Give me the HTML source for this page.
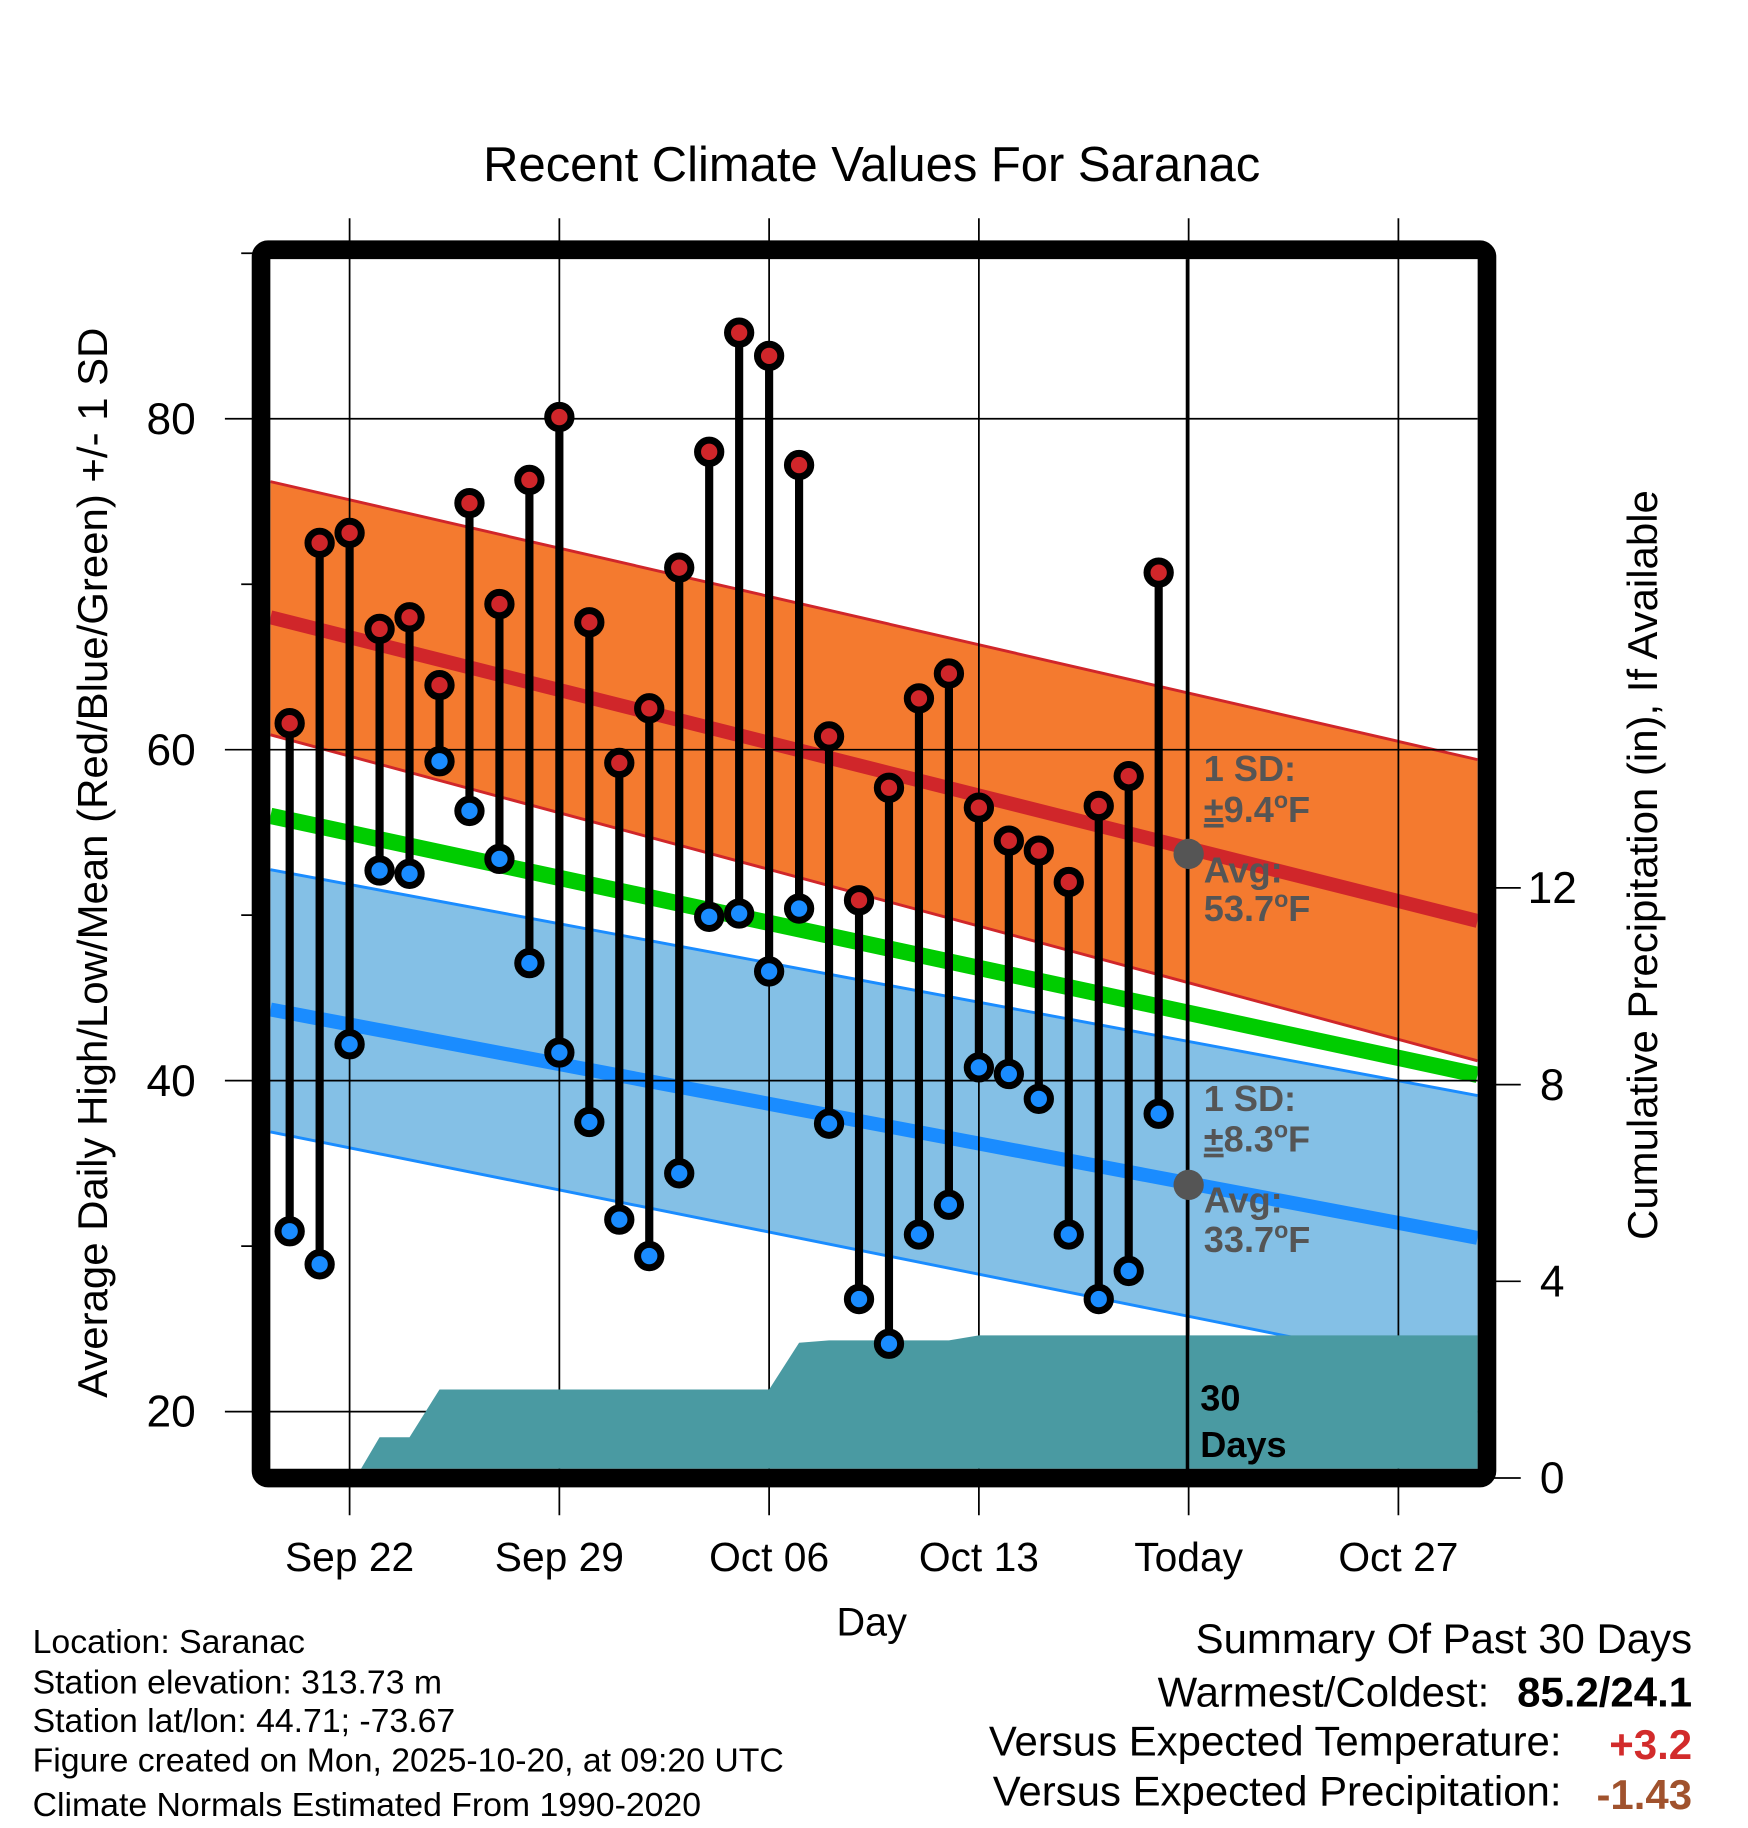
<!DOCTYPE html>
<html><head><meta charset="utf-8"><style>
html,body{margin:0;padding:0;background:#fff;}
svg{display:block;font-family:"Liberation Sans",Arial,sans-serif;}
</style></head><body>
<svg id="chart" xmlns="http://www.w3.org/2000/svg" width="1748" height="1828" viewBox="0 0 1500 1568">
<defs><clipPath id="plotclip"><rect x="232" y="222" width="1036" height="1038"/></clipPath></defs>
<text x="748" y="155" font-size="42" text-anchor="middle">Recent Climate Values For Saranac</text>
<g id="bands" clip-path="url(#plotclip)"></g>
<g id="grid"></g>
<g id="precip" clip-path="url(#plotclip)"></g>
<line x1="1019" y1="222" x2="1019" y2="1262" stroke="#000" stroke-width="3"/>
<g id="marks"></g>
<g font-weight="bold" font-size="31" fill="#555">
<text x="1033" y="670">1 SD:</text>
<text x="1033" y="705"><tspan text-decoration="underline">±</tspan>9.4<tspan font-size="20" dy="-12">o</tspan><tspan dy="12">F</tspan></text>
<text x="1033" y="757">Avg:</text>
<text x="1033" y="790">53.7<tspan font-size="20" dy="-12">o</tspan><tspan dy="12">F</tspan></text>
</g>
<g font-weight="bold" font-size="31" fill="#555">
<text x="1033" y="953">1 SD:</text>
<text x="1033" y="988"><tspan text-decoration="underline">±</tspan>8.3<tspan font-size="20" dy="-12">o</tspan><tspan dy="12">F</tspan></text>
<text x="1033" y="1040">Avg:</text>
<text x="1033" y="1074">33.7<tspan font-size="20" dy="-12">o</tspan><tspan dy="12">F</tspan></text>
</g>
<text x="1030" y="1210" font-size="31" font-weight="bold">30</text>
<text x="1030" y="1250" font-size="31" font-weight="bold">Days</text>
<rect x="224" y="214" width="1052" height="1054" rx="6" fill="none" stroke="#000" stroke-width="16"/>
<text x="748" y="1403" font-size="34" text-anchor="middle">Day</text>
<text transform="translate(92,740) rotate(-90)" font-size="36" text-anchor="middle">Average Daily High/Low/Mean (Red/Blue/Green) +/- 1 SD</text>
<text transform="translate(1422,742) rotate(-90)" font-size="36" text-anchor="middle">Cumulative Precipitation (in), If Available</text>
<g font-size="29">
<text x="28" y="1418">Location: Saranac</text>
<text x="28" y="1453">Station elevation: 313.73 m</text>
<text x="28" y="1486">Station lat/lon: 44.71; -73.67</text>
<text x="28" y="1520">Figure created on Mon, 2025-10-20, at 09:20 UTC</text>
<text x="28" y="1558">Climate Normals Estimated From 1990-2020</text>
</g>
<g font-size="36" text-anchor="end">
<text x="1452" y="1418">Summary Of Past 30 Days</text>
<text x="1278" y="1464">Warmest/Coldest:</text>
<text x="1452" y="1464" font-weight="bold">85.2/24.1</text>
<text x="1340" y="1506">Versus Expected Temperature:</text>
<text x="1452" y="1509" font-weight="bold" fill="#d22b2b">+3.2</text>
<text x="1340" y="1549">Versus Expected Precipitation:</text>
<text x="1452" y="1552" font-weight="bold" fill="#a0522d">-1.43</text>
</g>
</svg>
<script>
// Day index 0 = Sep 22
const obsDays = [-2,-1,0,1,2,3,4,5,6,7,8,9,10,11,12,13,14,15,16,17,18,19,20,21,22,23,24,25,26,27];
const highs = [61.6,72.5,73.1,67.3,68.0,63.9,74.9,68.8,76.3,80.1,67.7,59.2,62.5,71.0,78.0,85.2,83.8,77.2,60.8,50.9,57.7,63.1,64.6,56.5,54.5,53.9,52.0,56.6,58.4,70.7];
const lows = [30.9,28.9,42.2,52.7,52.5,59.3,56.3,53.4,47.1,41.7,37.5,31.6,29.4,34.4,49.9,50.1,46.6,50.4,37.4,26.8,24.1,30.7,32.5,40.8,40.4,38.9,30.7,26.8,28.5,38.0];
const normDays = [-2.64, 37.64];
const hiUpper = [76.2, 59.4];
const hiMean = [68.0, 49.65];
const hiLower = [60.9, 41.2];
const meanNorm = [56.0, 40.35];
const loUpper = [52.75, 39.1];
const loMean = [44.3, 30.5];
const loLower = [36.9, 22.25];
const precipDays = [0.2,1,2,3,14,15,16,20,21,37.7];
const precipCum = [0,0.83,0.83,1.8,1.8,2.75,2.8,2.8,2.9,2.9];
const xTickDays = [0,7,14,21,28,35];
const xTickLabels = ["Sep 22","Sep 29","Oct 06","Oct 13","Today","Oct 27"];
const yTicks = [20,40,60,80];
const yMinor = [30,50,70,90];
const pTicks = [0,4,8,12];
const todayDay = 28;
const todayHiAvg = 53.7, todayLoAvg = 33.7;

const X = d => 300 + d*180/7;
const Y = t => 643 - (t-60)*14.2;
const P = p => 1268 - p*42.2;
const NS = "http://www.w3.org/2000/svg";
function mk(tag, parent, attrs){const e=document.createElementNS(NS,tag);for(const k in attrs)e.setAttribute(k,attrs[k]);parent.appendChild(e);return e;}
const bands=document.getElementById('bands'), grid=document.getElementById('grid'), precip=document.getElementById('precip'), marks=document.getElementById('marks');
const x0=X(normDays[0]), x1=X(normDays[1]);
function band(up,lo,fill,edge,name){
  const p=mk('polygon',bands,{points:`${x0},${Y(up[0])} ${x1},${Y(up[1])} ${x1},${Y(lo[1])} ${x0},${Y(lo[0])}`,fill:fill});
  
  
  [up,lo].forEach(a=>{mk('line',bands,{x1:x0,y1:Y(a[0]),x2:x1,y2:Y(a[1]),stroke:edge,'stroke-width':2.5});});
}
function ln(a,col,w,name){const l=mk('line',bands,{x1:x0,y1:Y(a[0]),x2:x1,y2:Y(a[1]),stroke:col,'stroke-width':w});
  
  }
band(hiUpper,hiLower,'#f47a2f','#d0262a','high-sd-band');
ln(hiMean,'#d0262a',12,'high-mean-line');
band(loUpper,loLower,'#84c0e6','#1a8cff','low-sd-band');
ln(loMean,'#1a8cff',12,'low-mean-line');
ln(meanNorm,'#00cc00',14,'mean-line');
xTickDays.forEach((d,i)=>{
  const g=mk('line',grid,{x1:X(d),y1:187,x2:X(d),y2:1300,stroke:'#000','stroke-width':1.5});
  
  
  const t=mk('text',grid,{x:X(d),y:1348,'font-size':35,'text-anchor':'middle'});t.textContent=xTickLabels[i];
  
  
});
yTicks.forEach(v=>{
  const g=mk('line',grid,{x1:193,y1:Y(v),x2:1268,y2:Y(v),stroke:'#000','stroke-width':1.5});
  
  
  const t=mk('text',grid,{x:168,y:Y(v)+13,'font-size':38,'text-anchor':'end'});t.textContent=v;
  
  
});
yMinor.forEach(v=>{mk('line',grid,{x1:207,y1:Y(v),x2:222,y2:Y(v),stroke:'#000','stroke-width':1.5});});
pTicks.forEach(v=>{
  mk('line',grid,{x1:1280,y1:P(v),x2:1305,y2:P(v),stroke:'#000','stroke-width':1.5});
  const t=mk('text',grid,{x:1332,y:P(v)+13,'font-size':38,'text-anchor':'middle'});t.textContent=v;
  
  
});
let pts=`${X(precipDays[0])},${P(0)} `;
precipDays.forEach((d,i)=>{pts+=`${X(d)},${P(precipCum[i])} `;});
pts+=`${X(precipDays[precipDays.length-1])},${P(0)}`;
const pa=mk('polygon',precip,{points:pts,fill:'#4a9aa2'});


obsDays.forEach((d,i)=>{
  const s=mk('line',marks,{x1:X(d),y1:Y(highs[i]),x2:X(d),y2:Y(lows[i]),stroke:'#000','stroke-width':7});
  
  
});
obsDays.forEach((d,i)=>{
  const h=mk('circle',marks,{cx:X(d),cy:Y(highs[i]),r:10,fill:'#d0262a',stroke:'#000','stroke-width':6});
  
  
  const l=mk('circle',marks,{cx:X(d),cy:Y(lows[i]),r:10,fill:'#1a8cff',stroke:'#000','stroke-width':6});
  
  
});
const ah=mk('circle',marks,{cx:X(todayDay),cy:Y(todayHiAvg),r:13,fill:'#555'});


const al=mk('circle',marks,{cx:X(todayDay),cy:Y(todayLoAvg),r:13,fill:'#555'});


</script>
</body></html>
